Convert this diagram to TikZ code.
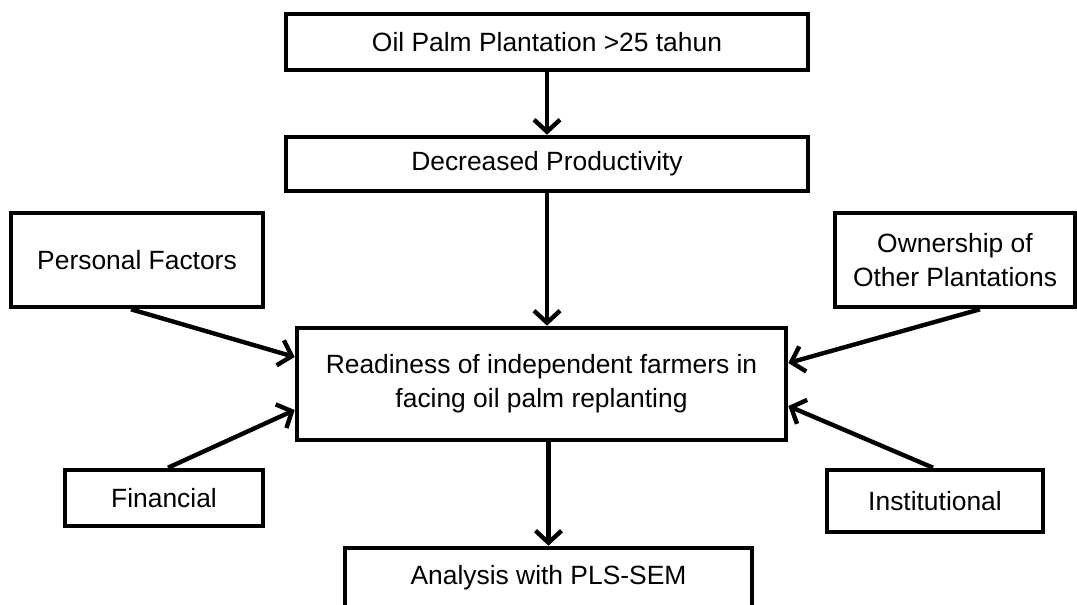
\documentclass[tikz,border=0pt]{standalone}
\usepackage{fontspec}
\setmainfont{Liberation Sans}
\usetikzlibrary{calc}
\usetikzlibrary{positioning}
\usetikzlibrary{arrows.meta}

\tikzset{
  box/.style={draw, line width=2.3pt, align=center, inner sep=0pt,
    font=\fontsize{13.2}{17}\selectfont},
  arr/.style={line width=2.2pt, -{Straight Barb[length=6pt,width=13pt,line width=2.2pt]}}
}

\begin{document}
\begin{tikzpicture}[x=0.5pt,y=-0.5pt]
\clip (0,0) rectangle (1077,605);
\fill[white] (0,0) rectangle (1077,605);

% main column
\node[box, minimum width=261pt, minimum height=28pt] (age) at (547,42) {Oil Palm Plantation >25 tahun};
\node[box, minimum width=261pt, minimum height=27pt] (prod) at (547,164) {Decreased Productivity};
\node[box, minimum width=244.5pt, minimum height=56pt] (ready) at (541.5,384) {Readiness of independent farmers in\\facing oil palm replanting};
\node[box, minimum width=203.5pt, minimum height=30pt] (pls) at (548.5,578) {Analysis with PLS-SEM};

% factors
\node[box, minimum width=126pt, minimum height=47pt] (pers) at (137,260) {Personal Factors};
\node[box, minimum width=120pt, minimum height=47pt] (own) at (955,260) {Ownership of\\Other Plantations};
\node[box, minimum width=99pt, minimum height=28pt] (fin) at (164,498) {Financial};
\node[box, minimum width=108pt, minimum height=31pt] (inst) at (935,501) {Institutional};

% arrows
\draw[arr] (age.south) -- (prod.north);
\draw[arr] (prod.south) -- (prod.south |- ready.north);
\draw[arr] (pls.north |- ready.south) -- (pls.north);

\draw[arr] ([xshift=-3pt]pers.south) -- ([yshift=13.5pt]ready.west);
\draw[arr] ([xshift=2pt]fin.north) -- ([yshift=-13pt]ready.west);
\draw[arr] ([xshift=12.5pt]own.south) -- ([yshift=10.5pt]ready.east);
\draw[arr] ([xshift=-1pt]inst.north) -- ([yshift=-11pt]ready.east);

\end{tikzpicture}
\end{document}
